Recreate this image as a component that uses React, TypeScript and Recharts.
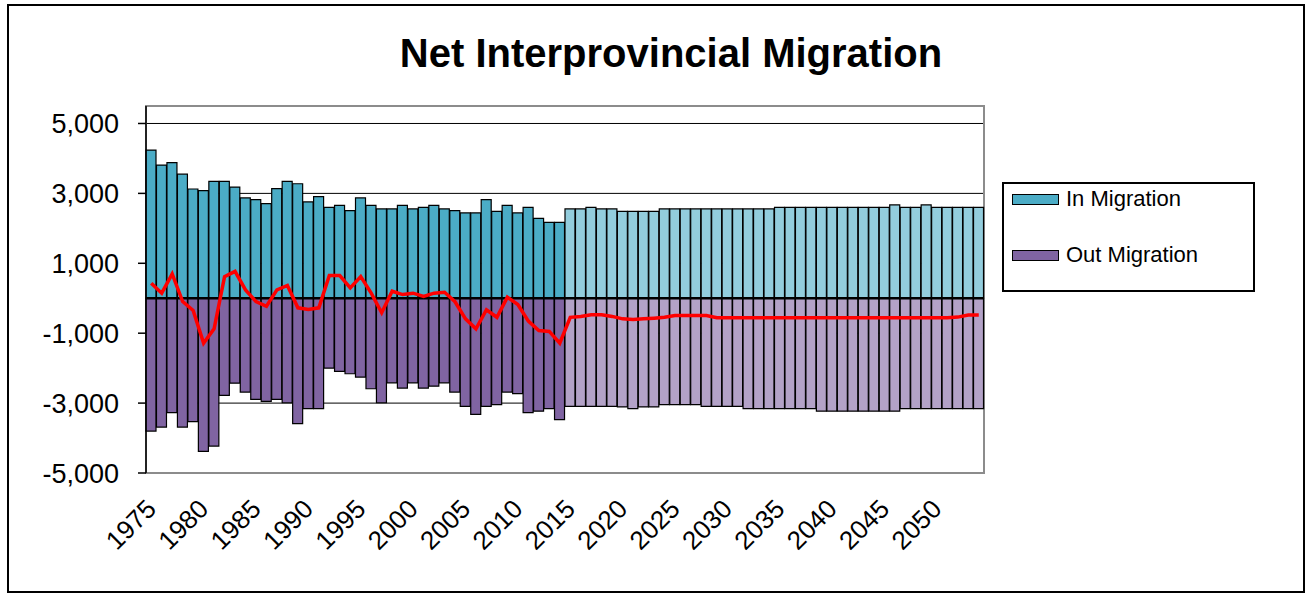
import React from 'react';
import {
  ComposedChart,
  Bar,
  Line,
  XAxis,
  YAxis,
  CartesianGrid,
  ReferenceLine,
  ReferenceArea,
  Cell,
} from 'recharts';

const years = [
  1975, 1976, 1977, 1978, 1979, 1980, 1981, 1982, 1983, 1984,
  1985, 1986, 1987, 1988, 1989, 1990, 1991, 1992, 1993, 1994,
  1995, 1996, 1997, 1998, 1999, 2000, 2001, 2002, 2003, 2004,
  2005, 2006, 2007, 2008, 2009, 2010, 2011, 2012, 2013, 2014,
  2015, 2016, 2017, 2018, 2019, 2020, 2021, 2022, 2023, 2024,
  2025, 2026, 2027, 2028, 2029, 2030, 2031, 2032, 2033, 2034,
  2035, 2036, 2037, 2038, 2039, 2040, 2041, 2042, 2043, 2044,
  2045, 2046, 2047, 2048, 2049, 2050, 2051, 2052, 2053, 2054,
];

const inMigration = [
  4240, 3810, 3880, 3550, 3125, 3080, 3345, 3345, 3180, 2870,
  2820, 2705, 3135, 3345, 3275, 2755, 2905, 2600, 2655, 2505,
  2870, 2655, 2555, 2555, 2655, 2555, 2600, 2655, 2555, 2505,
  2440, 2440, 2820, 2485, 2655, 2440, 2600, 2285, 2170, 2170,
  2555, 2555, 2600, 2555, 2555, 2485, 2485, 2485, 2485, 2555,
  2555, 2555, 2555, 2555, 2555, 2555, 2555, 2555, 2555, 2555,
  2600, 2600, 2600, 2600, 2600, 2600, 2600, 2600, 2600, 2600,
  2600, 2670, 2600, 2600, 2670, 2600, 2600, 2600, 2600, 2600,
];

const outMigration = [
  -3800, -3685, -3275, -3685, -3530, -4380, -4230, -2780, -2430, -2685,
  -2895, -2950, -2895, -2990, -3590, -3160, -3160, -2000, -2095, -2160,
  -2255, -2590, -2990, -2420, -2570, -2420, -2570, -2515, -2420, -2685,
  -3095, -3325, -3095, -3045, -2685, -2730, -3275, -3230, -3160, -3475,
  -3095, -3095, -3095, -3095, -3095, -3110, -3160, -3110, -3110, -3045,
  -3045, -3045, -3045, -3095, -3095, -3095, -3095, -3160, -3160, -3160,
  -3160, -3160, -3160, -3160, -3230, -3230, -3230, -3230, -3230, -3230,
  -3230, -3230, -3160, -3160, -3160, -3160, -3160, -3160, -3160, -3160,
];

const netMigration = [
  430, 145, 695, -95, -350, -1285, -875, 620, 770, 240,
  -95, -230, 240, 365, -275, -325, -275, 650, 650, 295,
  620, 145, -415, 200, 105, 145, 50, 145, 170, -100,
  -590, -875, -330, -545, 30, -180, -655, -925, -950, -1285,
  -545, -520, -475, -475, -520, -590, -610, -590, -570, -545,
  -495, -495, -495, -495, -560, -560, -560, -560, -560, -560,
  -560, -560, -560, -560, -560, -560, -560, -560, -560, -560,
  -560, -560, -560, -560, -560, -560, -560, -540, -480, -480,
];

const xTickLabels = [
  1975, 1980, 1985, 1990, 1995, 2000, 2005, 2010,
  2015, 2020, 2025, 2030, 2035, 2040, 2045, 2050,
];
const yTicks = [-5000, -3000, -1000, 1000, 3000, 5000];
const gridValues = [5000, 3000, 1000, -1000, -3000];
const yDomain = [-5000, 5500];
const firstProjectionYear = 2015;

const seriesNames = { in: 'In Migration', out: 'Out Migration', net: 'Net Migration' };
const colors = {
  inHist: '#4BACC6',
  inProj: '#93CDDD',
  outHist: '#8064A2',
  outProj: '#B3A2C7',
  net: '#FF0000',
};

const FONT = '"Liberation Sans", Arial, sans-serif';

const data = years.map((year, i) => ({
  year,
  inM: inMigration[i],
  outM: outMigration[i],
  net: netMigration[i],
}));

const XTick = (props: any) => {
  const { x, y, payload } = props;
  return (
    <g transform={`translate(${x},${y})`}>
      <text
        x={0}
        y={0}
        dy="0.35em"
        textAnchor="end"
        transform="rotate(-45)"
        fontSize={26}
        fontFamily={FONT}
        fill="#000"
      >
        {payload.value}
      </text>
    </g>
  );
};

const fmt = (v: number) => v.toLocaleString('en-US');

export default function App() {
  return (
    <div style={{ position: 'absolute', left: 0, top: 0, width: 1307, height: 594, background: '#fff', fontFamily: FONT }}>
      <div
        style={{
          position: 'absolute',
          left: 7,
          top: 4,
          width: 1298,
          height: 589,
          border: '2px solid #000',
          boxSizing: 'border-box',
        }}
      />
      <div
        style={{
          position: 'absolute',
          left: 0,
          top: 33,
          width: 1342,
          textAlign: 'center',
          fontSize: 40,
          lineHeight: '40px',
          fontWeight: 'bold',
          color: '#000',
        }}
      >
        Net Interprovincial Migration
      </div>
      <div style={{ position: 'absolute', left: 0, top: 0 }}>
        <ComposedChart
          width={1307}
          height={594}
          data={data}
          margin={{ top: 106, right: 323, bottom: 61, left: 0 }}
          stackOffset="sign"
          barCategoryGap={0}
          barGap={0}
        >
          <CartesianGrid
            vertical={false}
            horizontalValues={gridValues}
            stroke="#000"
            strokeWidth={1}
          />
          <ReferenceArea
            x1={years[0]}
            x2={years[years.length - 1]}
            y1={yDomain[0]}
            y2={yDomain[1]}
            fill="none"
            fillOpacity={0}
            stroke="#8c8c8c"
            strokeWidth={2}
          />
          <XAxis
            dataKey="year"
            ticks={xTickLabels}
            interval={0}
            axisLine={false}
            tickLine={false}
            tickSize={0}
            tickMargin={31}
            height={60}
            tick={<XTick />}
          />
          <YAxis
            width={146}
            domain={yDomain}
            ticks={yTicks}
            allowDataOverflow
            tickFormatter={fmt}
            axisLine={{ stroke: '#000', strokeWidth: 1.5 }}
            tickLine={{ stroke: '#000', strokeWidth: 1.5 }}
            tickSize={8}
            tickMargin={19}
            tick={{ fontSize: 27, fill: '#000', fontFamily: FONT }}
          />
          <Bar dataKey="inM" name={seriesNames.in} stackId="m" stroke="#000" strokeWidth={1.2} isAnimationActive={false}>
            {data.map((d, i) => (
              <Cell key={`in-${i}`} fill={d.year < firstProjectionYear ? colors.inHist : colors.inProj} />
            ))}
          </Bar>
          <Bar dataKey="outM" name={seriesNames.out} stackId="m" stroke="#000" strokeWidth={1.2} isAnimationActive={false}>
            {data.map((d, i) => (
              <Cell key={`out-${i}`} fill={d.year < firstProjectionYear ? colors.outHist : colors.outProj} />
            ))}
          </Bar>
          <ReferenceLine y={0} stroke="#000" strokeWidth={2.5} />
          <Line
            dataKey="net"
            name={seriesNames.net}
            type="linear"
            stroke={colors.net}
            strokeWidth={3.5}
            dot={false}
            isAnimationActive={false}
          />
        </ComposedChart>
      </div>
      <div
        style={{
          position: 'absolute',
          left: 1002,
          top: 182,
          width: 253,
          height: 110,
          border: '2px solid #000',
          boxSizing: 'border-box',
          background: '#fff',
        }}
      >
        {[
          { name: seriesNames.in, color: colors.inHist, cy: 17 },
          { name: seriesNames.out, color: colors.outHist, cy: 73 },
        ].map((it) => (
          <React.Fragment key={it.name}>
            <div
              style={{
                position: 'absolute',
                left: 8,
                top: it.cy - 7,
                width: 47,
                height: 11,
                background: it.color,
                border: '1.5px solid #000',
                boxSizing: 'border-box',
              }}
            />
            <div
              style={{
                position: 'absolute',
                left: 62,
                top: it.cy - 14,
                fontSize: 22,
                lineHeight: '24px',
                color: '#000',
                whiteSpace: 'nowrap',
              }}
            >
              {it.name}
            </div>
          </React.Fragment>
        ))}
      </div>
    </div>
  );
}
